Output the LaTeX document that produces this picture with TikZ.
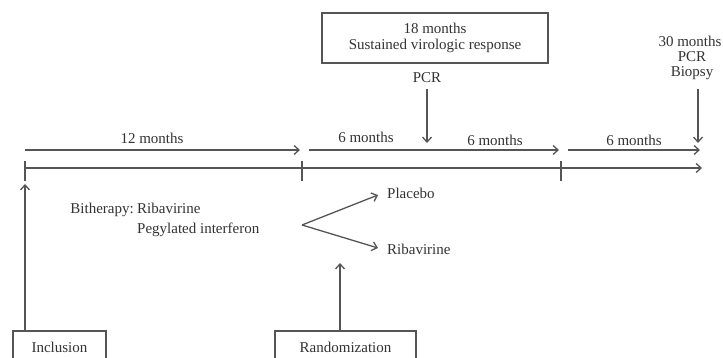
\documentclass[tikz,border=0pt]{standalone}
\usepackage{fontspec}
\setmainfont{Liberation Serif}
\usetikzlibrary{arrows.meta}
\definecolor{ln}{HTML}{555555}
\definecolor{tx}{HTML}{333333}
\tikzset{
  lbl/.style={text=tx, font=\fontsize{15}{15}\selectfont, inner sep=0pt},
  arr/.style={draw=ln, line width=1.3pt, -{Straight Barb[length=5pt,width=9pt]}},
  ln/.style={draw=ln, line width=1.3pt},
  boxx/.style={draw=ln, line width=1.5pt, fill=white, inner sep=0pt}
}
\begin{document}
\begin{tikzpicture}[x=1pt,y=-1pt]
\useasboundingbox (0,0) rectangle (723,358);
\fill[white] (0,0) rectangle (723,358);
% top arrows
\coordinate (a1s) at (25,150); \coordinate (a1e) at (300,150);
\coordinate (a2s) at (309,150); \coordinate (a2e) at (559,150);
\coordinate (a3s) at (568,150); \coordinate (a3e) at (700,150);
\draw[arr] (a1s) -- (a1e);
\draw[arr] (a2s) -- (a2e);
\draw[arr] (a3s) -- (a3e);
\node[lbl] (m12) at (152,138) {12 months};
\node[lbl] (m6a) at (366,137) {6 months};
\node[lbl] (m6b) at (495,140) {6 months};
\node[lbl] (m6c) at (634,140) {6 months};
% timeline
\coordinate (t0) at (25,168); \coordinate (t3) at (702,168);
\draw[arr] (t0) -- (t3);
\foreach \x/\n in {25/ta,302/tb,561/tc}{
  \coordinate (\n u) at (\x,161); \coordinate (\n d) at (\x,181);
  \draw[ln] (\n u) -- (\n d);
}
% 18 months box
\node[boxx, minimum width=226pt, minimum height=50pt] (box18) at (435,38) {};
\node[lbl] (b18a) at (435,28) {18 months};
\node[lbl] (b18b) at (435,46) {Sustained virologic response};
\node[lbl] (pcr1) at (427,78) {PCR};
\coordinate (p1s) at (427,89); \coordinate (p1e) at (427,143);
\draw[arr] (p1s) -- (p1e);
% 30 months
\node[lbl, anchor=base] (m30) at (690,47) {30 months};
\node[lbl, anchor=base] (m30b) at (692,62) {PCR};
\node[lbl, anchor=base] (m30c) at (692,77) {Biopsy};
\coordinate (p2s) at (698,89); \coordinate (p2e) at (698,143);
\draw[arr] (p2s) -- (p2e);
% bottom boxes
\node[boxx, minimum width=93pt, minimum height=34pt] (incl) at (59.5,348) {};
\node[lbl] (inclt) at (59.5,347) {Inclusion};
\node[boxx, minimum width=141pt, minimum height=34pt] (rand) at (345.5,348) {};
\node[lbl] (randt) at (345.5,347) {Randomization};
\coordinate (ie) at (25,184);
\draw[arr] (25,331) -- (ie);
\coordinate (re) at (340,263);
\draw[arr] (340,331) -- (re);
% bitherapy
\node[lbl, anchor=base east] (bith) at (134,214) {Bitherapy:};
\node[lbl, anchor=base west] (rib1) at (137,214) {Ribavirine};
\node[lbl, anchor=base west] (peg) at (137,234) {Pegylated interferon};
\coordinate (br) at (302,225);
\node[lbl, anchor=west] (plac) at (387,193) {Placebo};
\node[lbl, anchor=west] (rib2) at (387,249) {Ribavirine};
\coordinate (pe) at (378,195); \coordinate (re2) at (378,248);
\draw[arr] (br) -- (pe);
\draw[arr] (br) -- (re2);
\end{tikzpicture}
\end{document}
